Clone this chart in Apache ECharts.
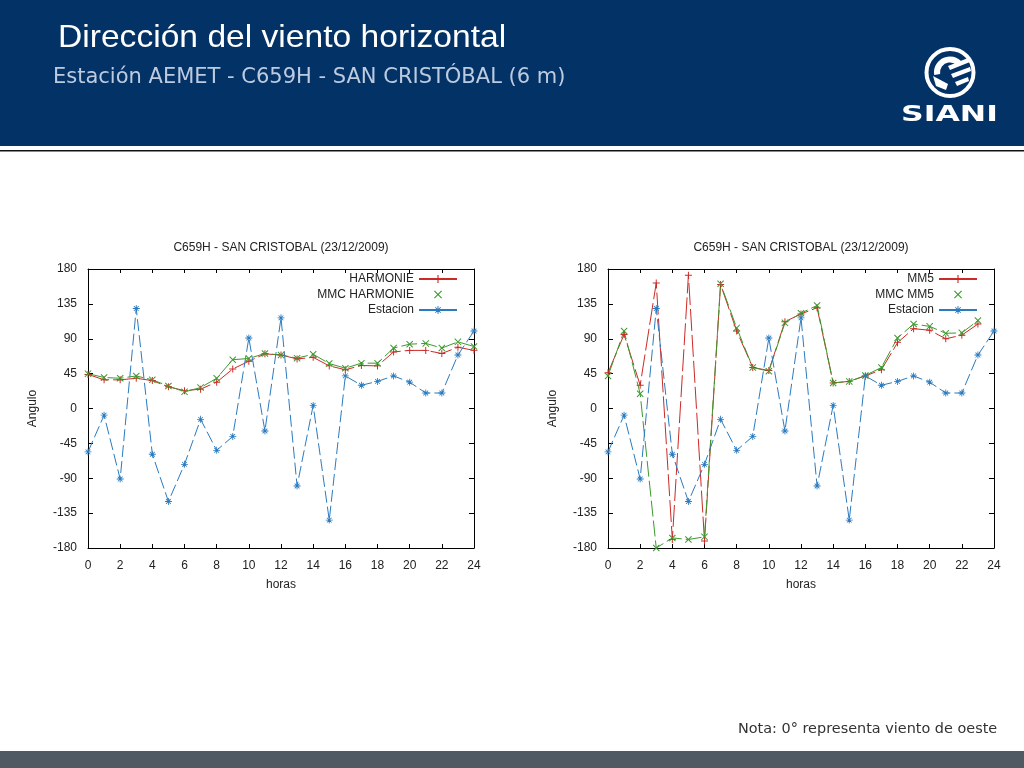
<!DOCTYPE html>
<html>
<head>
<meta charset="utf-8">
<script src="https://cdn.jsdelivr.net/npm/echarts@6/dist/echarts.min.js"></script>
<style>
html,body{margin:0;padding:0;background:#fff;}
#chart{width:1024px;height:768px;}
</style>
</head>
<body>
<div id="chart"></div>
<script>
// ---- data ----
const hours = [0,1,2,3,4,5,6,7,8,9,10,11,12,13,14,15,16,17,18,19,20,21,22,23,24];
const harmonie    = [44,37,37,39,36,28,23,25,34,51,61,70.5,69,64,66,55,50,55.5,55,73,75,75,71,79,75];
const mmcHarmonie = [45,40,39,42,37,29,21.5,27,39,63,64.5,71,69,65,70,58,52,58.5,58.5,78,83,84,78,86,80];
const estacion    = [-56,-8.6,-91,129,-59,-120,-72,-14,-54,-36,91,-29,117,-100,4,-144,42,30,35,42,34,20,20,69,100];
const mm5         = [46,95.5,30,162,-169,172,-171,160,100,53,49,112,122,130,33,35,42,50,85,103,101,90,94.6,109];
const mmcMm5      = [42,100,19,-180,-167,-169,-165.6,161,104,53,48,110.5,123,133,33,35,42.6,53,91,109,106,97,97.6,113.5];
const xTicks = [0,24,2];
const yTicks = [-180,180,45];
const chartTitle = 'C659H - SAN CRISTOBAL (23/12/2009)';

function pairs(vals){ return vals.map((v,i)=>[hours[i], v]); }

const RED='#cc2a26', GREEN='#3c9a2e', BLUE='#2b7bbf';
const PLUS='path://M4.3,0h1.4v4.3h4.3v1.4h-4.3v4.3h-1.4v-4.3h-4.3v-1.4h4.3z';
const CROSS='path://M0,1L1,0L5,4L9,0L10,1L6,5L10,9L9,10L5,6L1,10L0,9L4,5z';
const STAR='path://M4.4,0h1.2v4.4h4.4v1.2h-4.4v4.4h-1.2v-4.4h-4.4v-1.2h4.4z M1.2,2L2,1.2L5,4.2L8,1.2L8.8,2L5.8,5L8.8,8L8,8.8L5,5.8L2,8.8L1.2,8L4.2,5z';

const FONT='Liberation Sans, Arial, sans-serif';
const grids=[{left:88,top:269,width:386,height:279},{left:608,top:269,width:386,height:279}];

const xAxes=[], yAxes=[];
grids.forEach((g,i)=>{
  xAxes.push({gridIndex:i,type:'value',min:xTicks[0],max:xTicks[1],interval:xTicks[2],
    name:'horas',nameLocation:'middle',nameGap:31,nameTextStyle:{color:'#222',fontSize:12,fontFamily:FONT},
    axisLine:{onZero:false,lineStyle:{color:'#000',width:1}},axisTick:{inside:true,length:4,lineStyle:{color:'#000'}},
    axisLabel:{color:'#222',fontSize:12,fontFamily:FONT,margin:12},splitLine:{show:false}});
  xAxes.push({gridIndex:i,type:'value',position:'top',min:xTicks[0],max:xTicks[1],interval:xTicks[2],
    axisLine:{onZero:false,lineStyle:{color:'#000',width:1}},axisTick:{inside:true,length:4,lineStyle:{color:'#000'}},
    axisLabel:{show:false},splitLine:{show:false}});
  yAxes.push({gridIndex:i,type:'value',min:yTicks[0],max:yTicks[1],interval:yTicks[2],
    name:'Angulo',nameLocation:'middle',nameGap:49,nameTextStyle:{color:'#222',fontSize:12,fontFamily:FONT},
    axisLine:{show:true,onZero:false,lineStyle:{color:'#000',width:1}},axisTick:{show:true,inside:true,length:5,lineStyle:{color:'#000'}},
    axisLabel:{color:'#222',fontSize:12,fontFamily:FONT,margin:11},splitLine:{show:false}});
  yAxes.push({gridIndex:i,type:'value',position:'right',min:yTicks[0],max:yTicks[1],interval:yTicks[2],
    axisLine:{show:true,onZero:false,lineStyle:{color:'#000',width:1}},axisTick:{show:true,inside:true,length:5,lineStyle:{color:'#000'}},
    axisLabel:{show:false},splitLine:{show:false}});
});

function line(name,vals,gi,color,sym,dash){
  return {name:name,type:'line',xAxisIndex:gi*2,yAxisIndex:gi*2,data:pairs(vals),
    symbol:sym,symbolSize:7,showSymbol:true,clip:true,
    itemStyle:{color:color},lineStyle:{color:color,width:1,type:dash},
    emphasis:{disabled:true},animation:false};
}

const series=[
  line('HARMONIE',harmonie,0,RED,PLUS,[22,4]),
  line('MMC HARMONIE',mmcHarmonie,0,GREEN,CROSS,[16,4]),
  line('Estacion',estacion,0,BLUE,STAR,[12,4]),
  line('MM5',mm5,1,RED,PLUS,[22,4]),
  line('MMC MM5',mmcMm5,1,GREEN,CROSS,[16,4]),
  line('Estacion',estacion,1,BLUE,STAR,[12,4])
];

function legend(names,right){
  return {orient:'vertical',align:'right',right:right,top:268,itemWidth:38,itemHeight:10,itemGap:3.5,
    textStyle:{color:'#222',fontSize:12,fontFamily:FONT},selectedMode:false,
    lineStyle:{type:'solid'},
    data:[{name:names[0],lineStyle:{type:'solid'}},{name:names[1],lineStyle:{opacity:0}},{name:names[2],lineStyle:{type:'solid'}}]};
}

const W='#ffffff';
const graphic=[
  {type:'rect',shape:{x:0,y:0,width:1024,height:146},style:{fill:'#033266'},silent:true},
  {type:'rect',shape:{x:0,y:150,width:1024,height:1.5},style:{fill:'#111'},silent:true},
  {type:'rect',shape:{x:0,y:751,width:1024,height:17},style:{fill:'#4f5a63'},silent:true},
  {type:'text',x:58,y:38,scaleX:1.05,style:{text:'Dirección del viento horizontal',fill:W,font:'32px Liberation Sans, Arial, sans-serif',textVerticalAlign:'middle'}},
  {type:'text',x:53,y:77.5,style:{text:'Estación AEMET - C659H - SAN CRISTÓBAL (6 m)',fill:'#bccbe0',font:'21px DejaVu Sans, sans-serif',textVerticalAlign:'middle'}},
  // logo
  {type:'circle',shape:{cx:950,cy:72.5,r:23.5},style:{fill:'none',stroke:W,lineWidth:4}},
  {type:'arc',shape:{cx:950,cy:72.5,r:13,startAngle:Math.PI*0.95,endAngle:Math.PI*1.75},style:{stroke:W,lineWidth:6,fill:'none'}},
  {type:'polygon',shape:{points:[[948,66],[968,58],[970,62],[950,70]]},style:{fill:W}},
  {type:'polygon',shape:{points:[[951,74],[970,67],[971,71],[953,78]]},style:{fill:W}},
  {type:'polygon',shape:{points:[[955,82],[968,77],[969,81],[957,86]]},style:{fill:W}},
  {type:'polygon',shape:{points:[[933,76],[948,84],[946,90],[936,86]]},style:{fill:W}},
  {type:'text',x:901,y:116,scaleX:1.5,style:{text:'SIANI',fill:W,font:'bold 21px DejaVu Sans, sans-serif',textVerticalAlign:'middle'}},
  // chart titles
  {type:'text',x:281,y:248,style:{text:chartTitle,fill:'#222',font:'12px '+FONT,textAlign:'center',textVerticalAlign:'middle'}},
  {type:'text',x:801,y:248,style:{text:chartTitle,fill:'#222',font:'12px '+FONT,textAlign:'center',textVerticalAlign:'middle'}},
  {type:'text',x:738,y:729,scaleX:1.03,style:{text:'Nota: 0° representa viento de oeste',fill:'#333',font:'14px DejaVu Sans, sans-serif',textVerticalAlign:'middle'}}
];

const chart=echarts.init(document.getElementById('chart'),null,{renderer:'canvas'});
chart.setOption({
  animation:false,
  backgroundColor:'#fff',
  grid:grids,
  xAxis:xAxes,
  yAxis:yAxes,
  legend:[legend(['HARMONIE','MMC HARMONIE','Estacion'],561),legend(['MM5','MMC MM5','Estacion'],41)],
  series:series,
  graphic:graphic
});
</script>
</body>
</html>
